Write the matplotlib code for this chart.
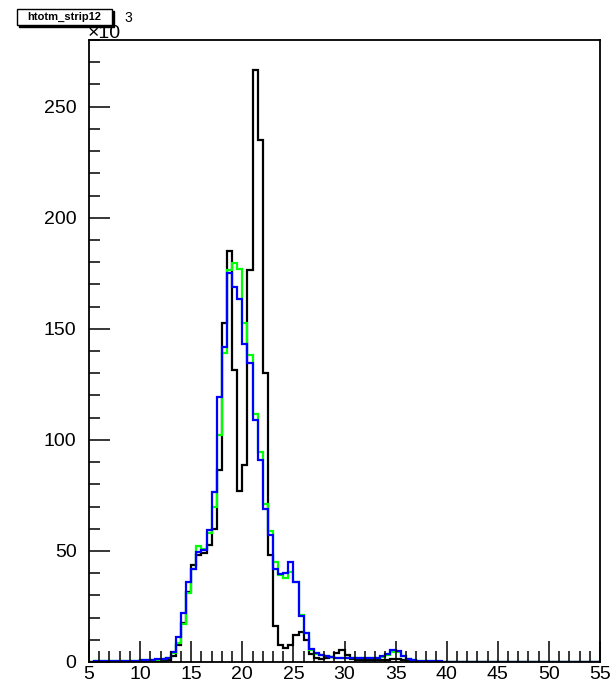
import numpy as np
import matplotlib
matplotlib.use("Agg")
import matplotlib.pyplot as plt
from matplotlib.patches import Rectangle
from matplotlib.ticker import MultipleLocator

# bin edges: 0.5 wide bins from 5 to 55 (values in units of 10^3)
x_lo, x_hi, bin_w = 5.0, 55.0, 0.5

black = [0, 0, 0, 0, 0, 0, 0, 0, 0, 0,
         0, 0, 0, 0, 0.3, 1.0, 2.5, 7.7, 17.5, 31.7,
         43.7, 48.0, 49.0, 52.7, 60.0, 86.5, 152.6, 184.8, 131.5, 77.0,
         88.7, 176.6, 266.5, 235.0, 130.0, 48.0, 16.0, 7.7, 6.3, 7.7,
         12.0, 13.6, 10.0, 3.5, 2.0, 1.5, 2.0, 2.4, 4.0, 5.4,
         3.2, 1.5, 1.0, 0.9, 0.8, 0.8, 0.8, 0.9, 1.0, 1.3,
         1.5, 0.8, 0.4, 0.2, 0.1, 0, 0, 0, 0, 0,
         0, 0, 0, 0, 0, 0, 0, 0, 0, 0,
         0, 0, 0, 0, 0, 0, 0, 0, 0, 0,
         0, 0, 0, 0, 0, 0, 0, 0, 0, 0]

green = [0.2, 0.3, 0.3, 0.4, 0.4, 0.5, 0.5, 0.5, 0.6, 0.6,
         0.7, 0.8, 0.9, 1.1, 1.3, 1.8, 4.0, 8.5, 17.0, 31.0,
         42.0, 52.0, 51.0, 58.0, 70.0, 102.0, 139.0, 176.6, 179.6, 177.0,
         152.6, 138.0, 111.7, 94.7, 71.0, 59.0, 45.0, 39.0, 38.0, 40.5,
         36.0, 21.0, 13.0, 5.5, 3.5, 3.0, 2.5, 2.1, 1.9, 1.9,
         1.9, 1.8, 1.7, 1.7, 1.7, 1.7, 1.8, 2.2, 3.3, 4.6,
         4.5, 2.5, 1.2, 0.8, 0.6, 0.5, 0.4, 0.3, 0.2, 0.1,
         0, 0, 0, 0, 0, 0, 0, 0, 0, 0,
         0, 0, 0, 0, 0, 0, 0, 0, 0, 0,
         0, 0, 0, 0, 0, 0, 0, 0, 0, 0]

blue = [0.2, 0.3, 0.3, 0.4, 0.4, 0.5, 0.5, 0.5, 0.6, 0.6,
        0.8, 0.9, 1.0, 1.2, 1.5, 2.0, 4.6, 11.4, 22.0, 36.0,
        42.0, 49.7, 50.5, 59.5, 76.5, 119.5, 142.0, 175.0, 168.6, 163.5,
        143.0, 134.5, 109.0, 91.0, 69.0, 57.0, 42.0, 39.6, 40.0, 45.0,
        36.0, 20.5, 13.0, 6.0, 4.0, 3.3, 2.7, 2.2, 2.0, 2.0,
        2.0, 1.9, 1.8, 1.8, 1.8, 1.8, 2.0, 2.5, 3.8, 5.5,
        5.0, 2.8, 1.3, 0.8, 0.6, 0.5, 0.4, 0.3, 0.3, 0.1,
        0, 0, 0, 0, 0, 0, 0, 0, 0, 0,
        0, 0, 0, 0, 0, 0, 0, 0, 0, 0,
        0, 0, 0, 0, 0, 0, 0, 0, 0, 0]

title = "htotm_strip12"

plt.rcParams["font.family"] = ["Liberation Sans", "DejaVu Sans"]

W, H = 614, 690
fig = plt.figure(figsize=(W / 100, H / 100), dpi=100)
ax = fig.add_axes([89 / W, 1 - 662 / H, (600 - 89) / W, (662 - 40) / H])

edges = np.linspace(x_lo, x_hi, len(blue) + 1)
ax.stairs(black, edges, color="black", linewidth=1.6)
ax.stairs(green, edges, color="#00ff00", linewidth=1.6)
ax.stairs(blue, edges, color="#0000ff", linewidth=1.6)

ax.set_xlim(x_lo, x_hi)
ax.set_ylim(0, 280)
ax.xaxis.set_major_locator(MultipleLocator(5))
ax.xaxis.set_minor_locator(MultipleLocator(1))
ax.yaxis.set_major_locator(MultipleLocator(50))
ax.yaxis.set_minor_locator(MultipleLocator(10))
ax.tick_params(which="both", direction="in", top=False, right=False,
               width=1.1, labelsize=14)
ax.tick_params(which="major", length=15)
ax.tick_params(which="minor", length=8)
ax.tick_params(axis="x", pad=3)
ax.tick_params(axis="y", pad=9)
ax.set_yticks([0, 50, 100, 150, 200, 250])
for s in ax.spines.values():
    s.set_linewidth(1.3)

# exponent label
fig.text(88 / W, 1 - 38 / H, "\u00d710", fontsize=14, ha="left", va="baseline")
fig.text(124 / W, 1 - 22 / H, "3", fontsize=10, ha="left", va="baseline")

# title box with shadow
fig.patches.append(Rectangle((19 / W, 1 - 27 / H), 95 / W, 16 / H,
                             transform=fig.transFigure, facecolor="black",
                             edgecolor="black", zorder=5))
fig.patches.append(Rectangle((17 / W, 1 - 25 / H), 95 / W, 16 / H,
                             transform=fig.transFigure, facecolor="white",
                             edgecolor="black", linewidth=1.0, zorder=6))
fig.text(64.5 / W, 1 - 17 / H, title, fontsize=8, fontweight="bold",
         ha="center", va="center", zorder=7)

fig.savefig("out.png", dpi=100)
